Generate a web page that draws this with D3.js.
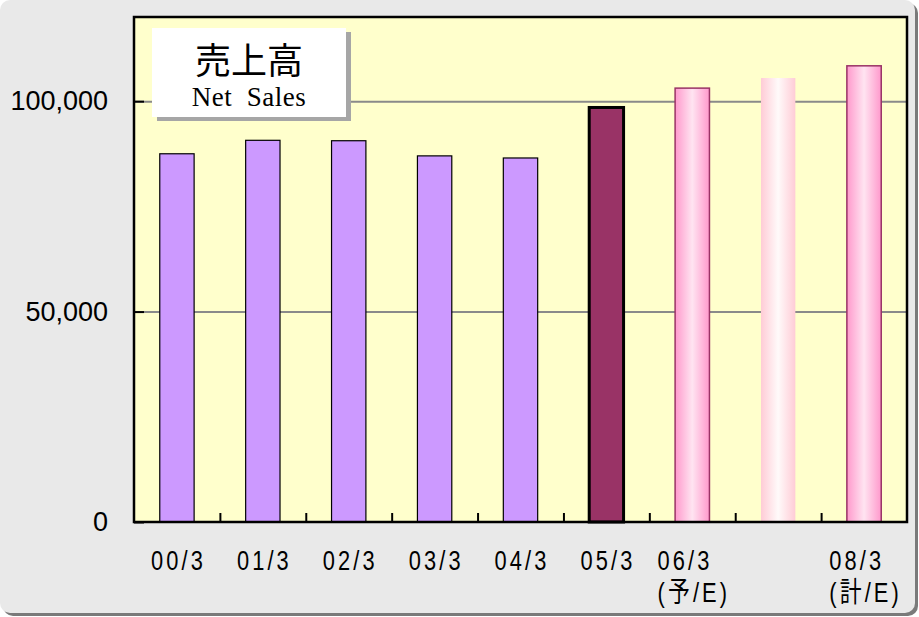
<!DOCTYPE html>
<html lang="ja">
<head>
  <meta charset="UTF-8" />
  <title>売上高 Net Sales</title>
  <script src="https://d3js.org/d3.v7.min.js"></script>
  <style>
    html, body { margin: 0; padding: 0; background: #ffffff; }
    svg { display: block; }
  </style>
</head>
<body>
  <svg id="chart" width="919" height="617"></svg>

  <script>
    // data
    const categories = ["00/3", "01/3", "02/3", "03/3", "04/3", "05/3", "06/3", "07/3", "08/3"];
    const sales = [87500, 90700, 90600, 87000, 86500, 98500, 103100, 105500, 108400];
    const barKinds = ["actual", "actual", "actual", "actual", "actual", "latest", "forecast", "plan", "forecast"];
    const xLabels = [["00/3"], ["01/3"], ["02/3"], ["03/3"], ["04/3"], ["05/3"], ["06/3", "(予/E)"], [], ["08/3", "(計/E)"]];
    const yTicks = [0, 50000, 100000];
    const yMax = 120000;

    const svg = d3.select("#chart"),
          margin = {top: 17, right: 12, bottom: 95, left: 134},
          width = 919 - margin.left - margin.right,
          height = 617 - margin.top - margin.bottom;

    const defs = svg.append("defs");

    function hGrad(id, edge, mid) {
      const g = defs.append("linearGradient").attr("id", id)
          .attr("x1", "0%").attr("x2", "100%").attr("y1", "0%").attr("y2", "0%");
      g.append("stop").attr("offset", "0%").attr("stop-color", edge);
      g.append("stop").attr("offset", "50%").attr("stop-color", mid);
      g.append("stop").attr("offset", "100%").attr("stop-color", edge);
    }
    hGrad("pinkGrad", "#ff99cc", "#ffe4f1");
    hGrad("paleGrad", "#ffccd6", "#fffafa");

    // outer frame with shadow
    svg.append("rect")
        .attr("x", 3).attr("y", 3).attr("width", 915).attr("height", 613)
        .attr("rx", 10).attr("fill", "#7a7a7a");
    svg.append("rect")
        .attr("x", 0).attr("y", 0).attr("width", 915).attr("height", 613)
        .attr("rx", 10).attr("fill", "#e9e9e9");

    const chart = svg.append("g")
        .attr("transform", `translate(${margin.left},${margin.top})`);

    // plot background
    chart.append("rect")
        .attr("width", width).attr("height", height)
        .attr("fill", "#ffffcc");

    const x = d3.scaleBand()
        .domain(categories)
        .range([0, width])
        .paddingInner(0.6)
        .paddingOuter(0.3);

    const y = d3.scaleLinear()
        .domain([0, yMax])
        .range([height, 0]);

    // gridlines
    const grid = chart.append("g")
        .call(d3.axisLeft(y).tickValues(yTicks.filter(d => d > 0)).tickSize(-width).tickFormat(""));
    grid.select(".domain").remove();
    grid.selectAll("line").attr("stroke", "#8a8a8a").attr("stroke-width", 2);

    // bars
    const fills = {actual: "#cc99ff", latest: "#993366", forecast: "url(#pinkGrad)", plan: "url(#paleGrad)"};
    const strokes = {actual: "#000000", latest: "#000000", forecast: "#993366", plan: "none"};
    const strokeW = {actual: 1.2, latest: 3, forecast: 1.5, plan: 0};

    chart.selectAll(".bar")
        .data(categories)
        .enter().append("rect")
          .attr("class", "bar")
          .attr("x", (d, i) => x(d))
          .attr("y", (d, i) => y(sales[i]))
          .attr("width", x.bandwidth())
          .attr("height", (d, i) => height - y(sales[i]))
          .attr("fill", (d, i) => fills[barKinds[i]])
          .attr("stroke", (d, i) => strokes[barKinds[i]])
          .attr("stroke-width", (d, i) => strokeW[barKinds[i]]);

    // y axis: inward ticks + labels
    const yAxis = chart.append("g")
        .call(d3.axisLeft(y).tickValues(yTicks).tickSize(-10).tickPadding(26).tickFormat(d3.format(",")));
    yAxis.select(".domain").remove();
    yAxis.selectAll("line").attr("stroke", "#000").attr("stroke-width", 2);
    yAxis.selectAll("text")
        .attr("font-family", "'Liberation Sans', Arial, sans-serif")
        .attr("font-size", "27px")
        .attr("fill", "#000");

    // x axis boundary ticks (between categories, pointing up)
    const xb = d3.scaleLinear().domain([0, categories.length]).range([0, width]);
    const xTickAxis = chart.append("g")
        .attr("transform", `translate(0,${height})`)
        .call(d3.axisBottom(xb).tickValues(d3.range(1, categories.length)).tickSize(-9).tickFormat(""));
    xTickAxis.select(".domain").remove();
    xTickAxis.selectAll("line").attr("stroke", "#000").attr("stroke-width", 2);

    // plot border
    chart.append("rect")
        .attr("width", width).attr("height", height)
        .attr("fill", "none").attr("stroke", "#000").attr("stroke-width", 2.5);

    // x labels (narrow look; multi-line blocks centred, lines left-aligned)
    const xAxis = chart.append("g")
        .attr("transform", `translate(0,${height})`)
        .call(d3.axisBottom(x).tickSize(0).tickFormat(""));
    xAxis.select(".domain").remove();

    xAxis.selectAll(".tick").each(function (d, i) {
      const lines = xLabels[i];
      if (!lines.length) return;
      const t = d3.select(this).append("text")
          .attr("font-family", "'Liberation Sans', 'Noto Sans CJK JP', sans-serif")
          .attr("font-size", "28px")
          .attr("letter-spacing", "4px")
          .attr("transform", "scale(0.78,1)")
          .attr("fill", "#000");
      lines.forEach((s, k) => {
        t.append("tspan").attr("x", 0).attr("y", 48 + k * 32).text(s);
      });
      let w = 0;
      t.selectAll("tspan").each(function () { w = Math.max(w, this.getComputedTextLength()); });
      if (lines.length > 1) {
        t.attr("text-anchor", "start").selectAll("tspan").attr("x", -w / 2 + 2);
      } else {
        t.attr("text-anchor", "middle").selectAll("tspan").attr("x", 2);
      }
    });

    // title box
    const box = svg.append("g").attr("transform", "translate(152,28)");
    box.append("rect").attr("x", 5).attr("y", 4).attr("width", 194).attr("height", 89).attr("fill", "#a6a6a6");
    box.append("rect").attr("width", 194).attr("height", 89).attr("fill", "#ffffff");
    box.append("text")
        .attr("x", 97).attr("y", 46)
        .attr("text-anchor", "middle")
        .attr("font-family", "'Noto Sans CJK JP', sans-serif")
        .attr("font-size", "36px")
        .attr("fill", "#000")
        .text("売上高");
    box.append("text")
        .attr("x", 97).attr("y", 78)
        .attr("text-anchor", "middle")
        .attr("font-family", "'Liberation Serif', 'Times New Roman', serif")
        .attr("font-size", "27px")
        .attr("letter-spacing", "0.5px")
        .attr("fill", "#000")
        .style("white-space", "pre")
        .text("Net  Sales");
  </script>
</body>
</html>
